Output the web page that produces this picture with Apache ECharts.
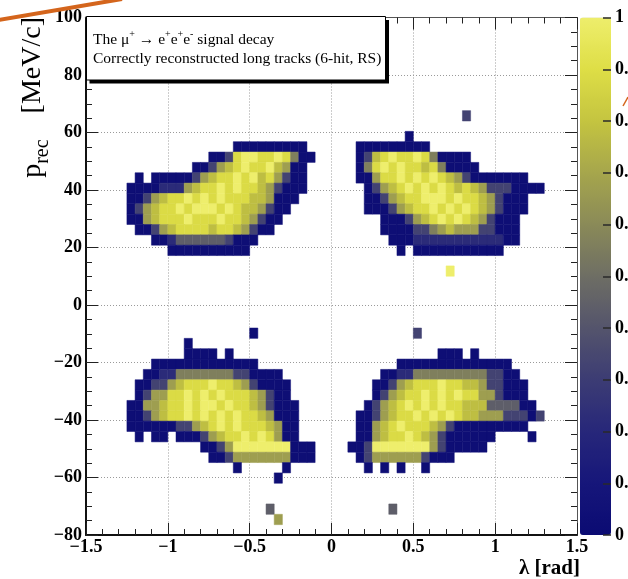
<!DOCTYPE html>
<html><head><meta charset="utf-8">
<script src="https://cdn.jsdelivr.net/npm/echarts@6/dist/echarts.min.js"></script>
<style>html,body{margin:0;padding:0;background:#fff}#c{width:628px;height:579px}</style>
</head><body><div id="c"></div>
<script>
// Axis ranges and binning of the 2D histogram
const xMin = -1.5, xMax = 1.5, xBin = 0.05;
const yMin = -80, yMax = 100, yBin = 3.6;
const xInterval = 0.5, yInterval = 20;
const zTickStep = 0.1;

// Cell content codes -> bin content (normalised, 0..1)
const levelValues = {'0':0.03,'1':0.11,'2':0.22,'3':0.33,'4':0.44,'5':0.56,'6':0.67,'7':0.78,'8':0.89,'9':1.0};

// Histogram rows, top bin (y 96.4..100) first; 60 columns of 0.05 rad each
const upperRows = [
".......... .......... .......... .......... .......... ..........",
".......... .......... .......... .......... .......... ..........",
".......... .......... .......... .......... .......... ..........",
".......... .......... .......... .......... .......... ..........",
".......... .......... .......... .......... .......... ..........",
".......... .......... .......... .......... .......... ..........",
".......... .......... .......... .......... .......... ..........",
".......... .......... .......... .......... .......... ..........",
".......... .......... .......... .......... .......... ..........",
".......... .......... .......... .......... ......3... ..........",
".......... .......... .......... .......... .......... ..........",
".......... .......... .......... .........0 .......... ..........",
".......... ........00 0000000... ...0000000 00........ ..........",
".......... .....00389 98898500.. ...0378988 9850000... ..........",
".......... ...0036789 8897600... ...0589898 87850000.. ..........",
"......0.00 0003678898 9786300... ...0068898 9898763000 0000......",
".....00002 2267889898 8763000... ....036789 8989878763 330000....",
".....00367 8898989888 776000.... ....003678 8999898876 3000......",
".....03678 8989998987 76300..... ....000367 8898989876 3000......",
".....00678 8898889887 6300...... ......0003 6789898763 000.......",
"......0036 7888878876 300....... ......0000 3356766633 000.......",
"........00 2444444300 0......... .......000 2222222222 200.......",
".......... 0000000000 .......... ........0. 0000000000 0.........",
".......... .......... .......... .......... .......... ..........",
".......... .......... .......... .......... ....9..... .........."
];
const lowerRows = [
".......... .......... .......... .......... .......... ..........",
".......... .......... .......... .......... .......... ..........",
".......... .......... .......... .......... .......... ..........",
".......... .......... .......... .......... .......... ..........",
".......... .......... .......... .......... .......... ..........",
".......... .......... 0......... .......... 3......... ..........",
".......... ..0....... .......... .......... .......... ..........",
".......... ..0000.0.. .......... .......... ...000.0.. ..........",
"........00 0000000000 0......... ........00 0000000000 00........",
".......002 2555555533 0000...... ......0022 5555555553 300.......",
"......0033 6788898876 30000..... .....00367 8889887763 3000......",
"......0366 8898989888 76300..... .....03678 8989898866 3000......",
".....00667 8898998988 763000.... ....036789 8989887774 44400.....",
".....00367 8898989898 876000.... ...0036788 9898987766 633303....",
".....00000 0336789898 887600.... ...0067898 8876300000 0000......",
"......0.00 .000367889 898600.... ...0067889 8763000000 ....0.....",
".......... ....003699 99999000.. ..00399999 996300000. ..........",
".......... .....00366 66666000.. ...0366666 63000..... ..........",
".......... ........0. ....0..... ....0.0.0. .0........ ..........",
".......... .......... ...0...... .......... .......... ..........",
".......... .......... .......... .......... .......... ..........",
".......... .......... .......... .......... .......... ..........",
".......... .......... ..4....... .......4.. .......... ..........",
".......... .......... ...6...... .......... .......... ..........",
".......... .......... .......... .......... .......... .........."
];

const palette = ['#0b0b73','#16167a','#27277a','#3c3c74','#54546c','#6e6e64','#8a8a58','#a6a64c','#c4c440','#dede46','#eeee6c'];

const allRows = upperRows.concat(lowerRows).map(r => r.replace(/ /g, ''));
const nRows = allRows.length;
const cells = [];
allRows.forEach((row, i) => {
  const k = nRows - 1 - i;
  for (let c = 0; c < row.length; c++) {
    const ch = row[c];
    if (ch === '.') continue;
    cells.push([xMin + (c + 0.5) * xBin, yMin + (k + 0.5) * yBin, levelValues[ch]]);
  }
});

const FONT = '"Liberation Serif", "Times New Roman", serif';
const minus = v => (v < 0 ? '\u2212' + String(-v) : String(v));
const tickStyle = {color: '#222', width: 1};

const chart = echarts.init(document.getElementById('c'), null, {renderer: 'canvas'});
chart.setOption({
  animation: false,
  backgroundColor: '#ffffff',
  grid: [
    {left: 86, top: 17.5, width: 491, height: 517.5, containLabel: false, outerBoundsMode: 'none'},
    {left: 580, top: 17.5, width: 31, height: 517.5, containLabel: false, outerBoundsMode: 'none', z: 10}
  ],
  xAxis: [
    {gridIndex: 0, type: 'value', min: xMin, max: xMax, interval: xInterval, position: 'bottom',
     axisLine: {show: true, onZero: false, lineStyle: {color: '#111', width: 2}},
     axisTick: {show: true, inside: true, length: 12, lineStyle: tickStyle},
     minorTick: {show: true, splitNumber: 5, length: 6, lineStyle: tickStyle},
     axisLabel: {fontFamily: FONT, fontWeight: 'bold', fontSize: 18, color: '#000', margin: 3, formatter: minus},
     splitLine: {show: true, lineStyle: {color: '#9a9a9a', type: [1, 2], width: 1}}},
    {gridIndex: 0, type: 'value', min: xMin, max: xMax, interval: xInterval, position: 'top',
     axisLine: {show: true, onZero: false, lineStyle: {color: '#555', width: 1}},
     axisTick: {show: true, inside: true, length: 12, lineStyle: tickStyle},
     minorTick: {show: true, splitNumber: 5, length: 6, lineStyle: tickStyle},
     axisLabel: {show: false}, splitLine: {show: false}},
    {gridIndex: 1, type: 'value', min: 0, max: 1, show: false}
  ],
  yAxis: [
    {gridIndex: 0, type: 'value', min: yMin, max: yMax, interval: yInterval, position: 'left',
     axisLine: {show: true, onZero: false, lineStyle: {color: '#111', width: 2}},
     axisTick: {show: true, inside: true, length: 12, lineStyle: tickStyle},
     minorTick: {show: true, splitNumber: 4, length: 6, lineStyle: tickStyle},
     axisLabel: {fontFamily: FONT, fontWeight: 'bold', fontSize: 18, color: '#000', margin: 4, formatter: minus},
     splitLine: {show: true, lineStyle: {color: '#9a9a9a', type: [1, 2], width: 1}}},
    {gridIndex: 0, type: 'value', min: yMin, max: yMax, interval: yInterval, position: 'right',
     axisLine: {show: true, onZero: false, lineStyle: {color: '#555', width: 1}},
     axisTick: {show: true, inside: true, length: 12, lineStyle: tickStyle},
     minorTick: {show: true, splitNumber: 4, length: 6, lineStyle: tickStyle},
     axisLabel: {show: false}, splitLine: {show: false}},
    {gridIndex: 1, type: 'value', min: 0, max: 1, interval: zTickStep, position: 'right', z: 20, zlevel: 0,
     axisLine: {show: true, onZero: false, lineStyle: {color: '#333', width: 1, opacity: 0}},
     axisTick: {show: true, inside: true, length: 8, lineStyle: {color: '#2a2a2a', width: 1.5}},
     axisLabel: {fontFamily: FONT, fontWeight: 'bold', fontSize: 18, color: '#000', margin: 4,
                 hideOverlap: false, showMaxLabel: true, showMinLabel: true},
     splitLine: {show: false}}
  ],
  visualMap: {
    type: 'continuous', min: 0, max: 1, dimension: 2, seriesIndex: 0, z: 1,
    orient: 'vertical', left: 580, top: 17.5, itemWidth: 31, itemHeight: 517.5,
    padding: 0, calculable: false, hoverLink: false, text: null, show: true,
    inRange: {color: palette}
  },
  series: [{
    type: 'custom', xAxisIndex: 0, yAxisIndex: 0, silent: true, data: cells,
    renderItem: function (params, api) {
      const x = api.value(0), y = api.value(1);
      const a = api.coord([x - xBin / 2, y + yBin / 2]);
      const b = api.coord([x + xBin / 2, y - yBin / 2]);
      const col = api.visual('color');
      return {type: 'rect', shape: {x: a[0], y: a[1], width: b[0] - a[0], height: b[1] - a[1]},
              style: {fill: col, stroke: col, lineWidth: 0.5}};
    }
  }],
  graphic: [
    {type: 'line', z: 100, shape: {x1: -2, y1: 20, x2: 122, y2: -1}, style: {stroke: '#d4651c', lineWidth: 4}},
    {type: 'rect', z: 100, shape: {x: 89.5, y: 20, width: 299.5, height: 63.5}, style: {fill: '#000'}},
    {type: 'rect', z: 101, shape: {x: 86.5, y: 16.5, width: 299, height: 63.5}, style: {fill: '#fff', stroke: '#000', lineWidth: 1}},
    {type: 'text', z: 102, x: 93, y: 39.5, style: {
      text: '{n|The \u03bc}{s|+}{n| \u2192 e}{s|+}{n|e}{s|+}{n|e}{s|-}{n| signal decay}',
      verticalAlign: 'middle', align: 'left',
      rich: {n: {fontFamily: FONT, fontSize: 15.5, lineHeight: 20, verticalAlign: 'middle', fill: '#000'},
             s: {fontFamily: FONT, fontSize: 10, lineHeight: 20, verticalAlign: 'top', fill: '#000'}}}},
    {type: 'text', z: 102, x: 93, y: 58.5, style: {
      text: 'Correctly reconstructed long tracks (6-hit, RS)', fontFamily: FONT, fontSize: 15.5,
      fill: '#000', verticalAlign: 'middle', align: 'left'}},
    {type: 'text', z: 102, x: 33, y: 17, rotation: Math.PI / 2, style: {
      text: '{a|p}{b|rec}{g|}{a|[MeV/c]}', align: 'right', verticalAlign: 'middle',
      rich: {a: {fontFamily: FONT, fontSize: 28, lineHeight: 40, verticalAlign: 'middle', fill: '#000'},
             b: {fontFamily: FONT, fontSize: 20, lineHeight: 20, verticalAlign: 'bottom', fill: '#000'},
             g: {width: 26, fontSize: 28}}}},
    {type: 'text', z: 102, x: 580, y: 569, style: {
      text: '\u03bb [rad]', fontFamily: FONT, fontWeight: 'bold', fontSize: 21, fill: '#000',
      align: 'right', verticalAlign: 'middle'}},
    {type: 'line', z: 100, shape: {x1: 623, y1: 106, x2: 628, y2: 97}, style: {stroke: '#d4651c', lineWidth: 1.5}}
  ]
});
</script></body></html>
